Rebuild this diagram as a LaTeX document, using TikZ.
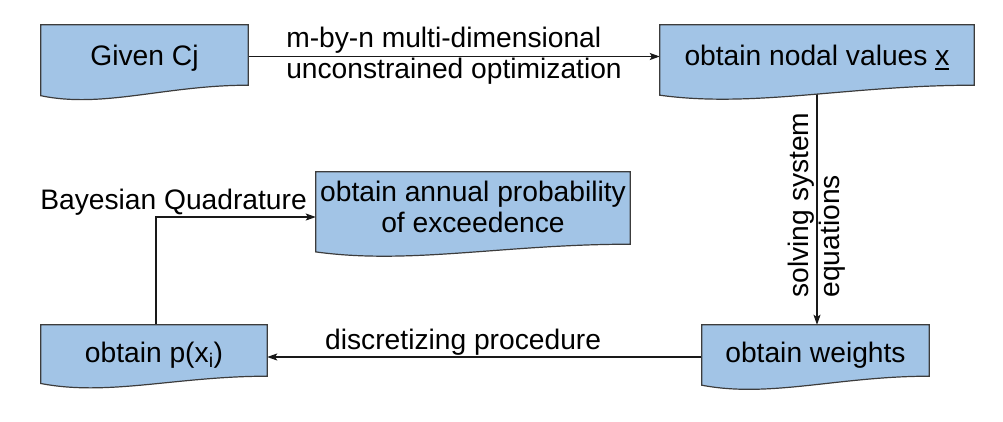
\documentclass[tikz,border=0pt]{standalone}
\usepackage{fontspec}
\setmainfont{Liberation Sans}
\usetikzlibrary{calc,arrows.meta}
\pgfdeclarelayer{connlayer}
\pgfdeclarelayer{shplayer}
\pgfsetlayers{connlayer,shplayer,main}
\definecolor{boxfill}{RGB}{162,196,230}
\definecolor{boxline}{RGB}{60,60,60}
\definecolor{lnk}{RGB}{25,25,25}
\newcommand\ulx[1]{\setbox0\hbox{#1}\rlap{\rule[-4.5pt]{\wd0}{1.8pt}}#1}
\newcommand\docshp[3]{%
  \begin{pgfonlayer}{shplayer}
  \draw[docline] (#1.north west) -- (#1.north east) -- ($(#1.south east)+(0,#3)$)
    .. controls ($(#1.south west)!0.6!(#1.south east)+(0,#3)$)
    and ($(#1.south west)!0.3!(#1.south east)+(0,#2+13)$)
    .. ($(#1.south west)+(0,#2)$) -- cycle;
  \end{pgfonlayer}}
\begin{document}
\begin{tikzpicture}[x=1pt,y=-1pt,
  font=\fontsize{28.2}{31}\selectfont,
  bx/.style={draw=none,inner sep=0pt},
  oneline/.style={text height=21pt,text depth=4pt},
  docline/.style={draw=boxline,fill=boxfill,line width=1.2pt,line join=miter},
  link/.style={draw=lnk,line width=1.2pt,-{Stealth[length=10pt,width=7pt,inset=2pt]}},
  lbl/.style={inner sep=0pt}]
\useasboundingbox (0,0) rectangle (1003,421);
% nodes
\node[bx,oneline,minimum width=207pt,minimum height=63pt] (given) at (144.5,56.5) {Given Cj};
\node[bx,oneline,minimum width=314pt,minimum height=63pt] (nodal) at (817,56.5) {obtain nodal values \ulx{x}};
\node[bx,align=center,minimum width=314pt,minimum height=70pt] (annual) at (473,207) {obtain annual probability\\of exceedence};
\node[bx,oneline,minimum width=226pt,minimum height=57pt] (p) at (154,353.5) {obtain p(x\textsubscript{i})};
\node[bx,oneline,minimum width=227pt,minimum height=57pt] (weights) at (815.5,353.5) {obtain weights};
% shapes
\docshp{given}{7.5}{-3}
\docshp{nodal}{7}{-3}
\docshp{annual}{9.7}{2}
\docshp{p}{1.3}{-6}
\docshp{weights}{3}{-6}
% connectors
\begin{pgfonlayer}{connlayer}
\draw[link] (given.east) -- (nodal.west);
\draw[link] (nodal.south) -- (nodal.south |- weights.north);
\draw[link] ([yshift=-3.5pt]weights.west) -- ([yshift=-3.5pt]p.east);
\draw[link] ([xshift=2pt]p.north) |- ([yshift=-10pt]annual.west);
\end{pgfonlayer}
% labels
\node[lbl,align=left] (lopt) at (454,55.5) {m-by-n multi-dimensional\\unconstrained optimization};
\node[lbl,anchor=base east] (lbq) at (307,209) {Bayesian Quadrature};
\node[lbl,anchor=base west] (ldisc) at (325,349) {discretizing procedure};
\node[lbl,rotate=90,align=left] (lsolve) at (817,205) {solving system\\equations};
\end{tikzpicture}
\end{document}
